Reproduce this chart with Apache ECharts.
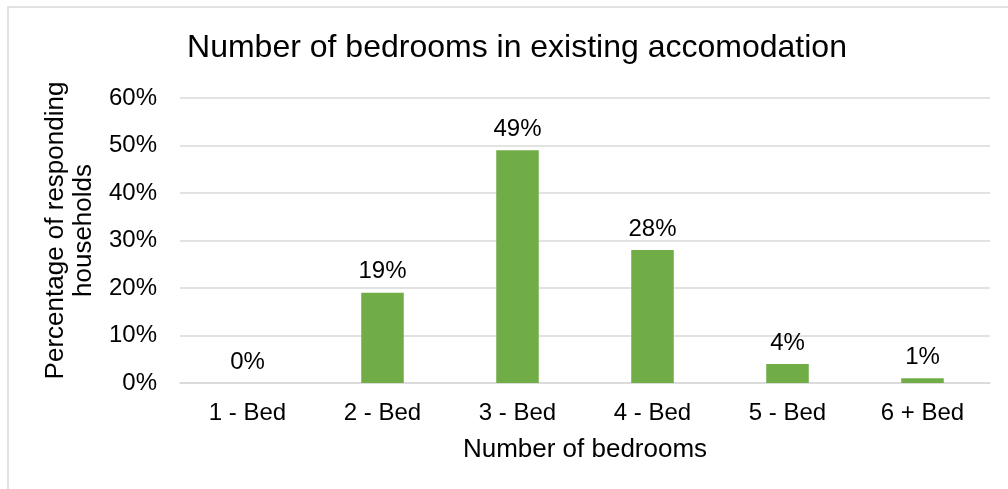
<!DOCTYPE html>
<html>
<head>
<meta charset="utf-8">
<script src="https://cdn.jsdelivr.net/npm/echarts@6/dist/echarts.min.js"></script>
<style>
  html, body { margin: 0; padding: 0; background: #fff; }
  #chart { width: 1008px; height: 489px; }
</style>
</head>
<body>
<div id="chart"></div>
<script>
var categories = ['1 - Bed', '2 - Bed', '3 - Bed', '4 - Bed', '5 - Bed', '6 + Bed']
var percentages = [0, 19, 49, 28, 4, 1]
var yTicks = [0, 10, 20, 30, 40, 50, 60]

var chart = echarts.init(document.getElementById('chart'))
var font = 'Liberation Sans, Arial, sans-serif'

var option = {
  animation: false,
  backgroundColor: '#ffffff',
  textStyle: { fontFamily: font },
  graphic: [
    {
      type: 'rect',
      shape: { x: 8, y: 7, width: 1100, height: 600 },
      style: { fill: 'none', stroke: '#d9d9d9', lineWidth: 1.5 }
    }
  ],
  title: {
    text: 'Number of bedrooms in existing accomodation',
    left: 512,
    top: 27,
    textAlign: 'center',
    textStyle: { fontSize: 32, fontWeight: 'normal', color: '#000', fontFamily: font }
  },
  grid: { left: 180, right: 18, top: 98, bottom: 106 },
  xAxis: {
    type: 'category',
    data: categories,
    name: 'Number of bedrooms',
    nameLocation: 'middle',
    nameGap: 54,
    nameTextStyle: { fontSize: 26, color: '#000', fontFamily: font },
    axisLine: { lineStyle: { color: '#d9d9d9', width: 1.5 } },
    axisTick: { show: false },
    axisLabel: { fontSize: 24, color: '#000', margin: 18, fontFamily: font }
  },
  yAxis: {
    type: 'value',
    min: yTicks[0],
    max: yTicks[yTicks.length - 1],
    interval: 10,
    name: 'Percentage of responding\nhouseholds',
    nameLocation: 'middle',
    nameGap: 78,
    nameRotate: 90,
    nameTextStyle: { fontSize: 26, color: '#000', lineHeight: 28, padding: [0, 0, 0, 20], fontFamily: font },
    axisLine: { show: false },
    axisTick: { show: false },
    splitLine: { lineStyle: { color: '#d9d9d9', width: 1.5 } },
    axisLabel: { fontSize: 24, color: '#000', margin: 23, formatter: '{value}%', fontFamily: font }
  },
  series: [
    {
      type: 'bar',
      data: percentages,
      barWidth: '31.5%',
      itemStyle: { color: '#70ad47' },
      label: {
        show: true,
        position: 'top',
        distance: 9,
        formatter: '{c}%',
        fontSize: 24,
        color: '#000',
        fontFamily: font
      }
    }
  ]
}

chart.setOption(option)
</script>
</body>
</html>
